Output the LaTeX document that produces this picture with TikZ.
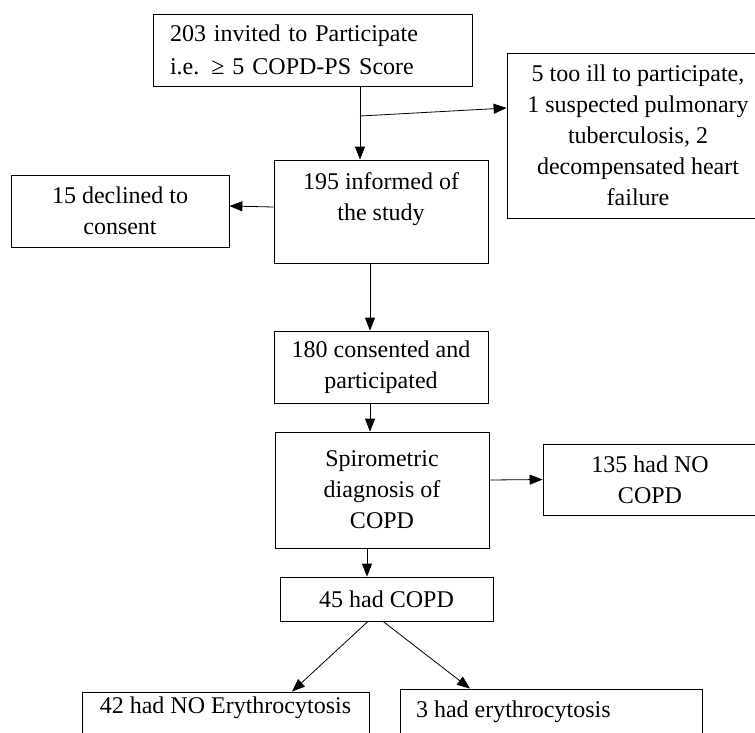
\documentclass[tikz,border=0pt]{standalone}
\usepackage{fontspec}
\setmainfont{Liberation Serif}
\usetikzlibrary{arrows.meta}
\newcommand{\toptext}[4]{\parbox[c][#2][t]{#1}{\vspace*{#3}#4}}
\tikzset{
  box/.style={draw, line width=0.8pt, inner sep=0pt, align=center, minimum width=214pt, minimum height=72pt},
  arr/.style={-{Triangle[length=13pt,width=10pt]}, line width=0.8pt},
}
\begin{document}
\begin{tikzpicture}[x=1pt,y=-1pt,font=\fontsize{24}{31}\selectfont]
\useasboundingbox (0,0) rectangle (755,732);
\clip (0,0) rectangle (755,732);
% boxes
\node[box, minimum width=319pt, text width=285pt, inner xsep=17pt, align=left] (invite) at (312.5,50) {203 invited to Participate\\[2pt]i.e. ≥ 5 COPD-PS Score};
\node[box, minimum width=262pt, minimum height=165pt] (excluded) at (638,135.5) {5 too ill to participate,\\1 suspected pulmonary\\tuberculosis, 2\\decompensated heart\\failure};
\node[box] (inform) at (381,211.5) {\toptext{214pt}{103pt}{13pt}{\centering 195 informed of\\the study}};
\node[box, minimum width=218pt] (declined) at (120,211) {15 declined to\\consent};
\node[box] (consent) at (381,367) {180 consented and\\participated};
\node[box, minimum height=116pt] (spiro) at (382,490) {Spirometric\\diagnosis of\\COPD};
\node[box, minimum height=71pt] (nocopd) at (650,479.5) {135 had NO\\COPD};
\node[box, minimum width=213pt, minimum height=44pt] (copd) at (386.5,599) {45 had COPD};
\node[box] (noery) at (225.5,732) {\toptext{287pt}{80pt}{5pt}{\centering 42 had NO Erythrocytosis}};
\node[box] (ery) at (551,729) {\toptext{302pt}{80pt}{12pt}{\hspace*{16pt}3 had erythrocytosis}};
% connectors
\coordinate (split) at (360,116);
\draw[arr] ([xshift=47.5pt]invite.south) -- ([xshift=-21pt]inform.north);
\draw[arr] (split) -- ([yshift=27.5pt]excluded.west);
\draw[arr] ([yshift=4.5pt]inform.west) -- ([yshift=5pt]declined.east);
\draw[arr] ([xshift=-11pt]inform.south) -- ([xshift=-11pt]consent.north);
\draw[arr] ([xshift=-11pt]consent.south) -- ([xshift=-12pt]spiro.north);
\draw[arr] ([yshift=10pt]spiro.east) -- (nocopd.west);
\draw[arr] ([xshift=-15pt]spiro.south) -- ([xshift=-19.5pt]copd.north);
\draw[arr] ([xshift=-18.5pt]copd.south) -- ([xshift=66.5pt]noery.north);
\draw[arr] ([xshift=-3.5pt]copd.south) -- ([xshift=-81pt]ery.north);
\end{tikzpicture}
\end{document}
